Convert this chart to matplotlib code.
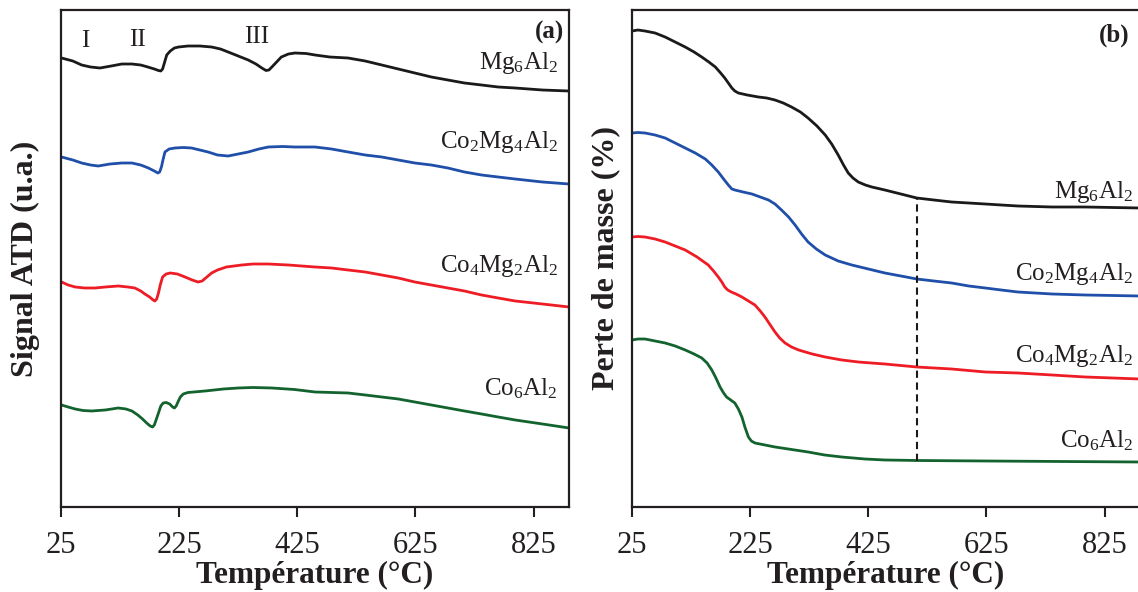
import matplotlib
matplotlib.use('Agg')
import matplotlib.pyplot as plt

plt.rcParams['font.family'] = ['Liberation Serif', 'DejaVu Serif']
plt.rcParams['mathtext.fontset'] = 'custom'
plt.rcParams['mathtext.rm'] = 'Liberation Serif'
plt.rcParams['mathtext.it'] = 'Liberation Serif'
plt.rcParams['mathtext.default'] = 'regular'

# (a) ATD signal, arbitrary units
atd_mg6_T = [26, 45, 60, 75, 91, 110, 128, 145, 160, 172, 183, 190, 194, 197, 200, 204, 210, 217, 224, 240,
             260, 280, 295, 308, 325, 342, 355, 365, 372, 377, 382, 390, 398, 410, 421, 440, 455, 480, 511,
             540, 568, 596, 624, 652, 680, 708, 737, 765, 794, 840, 885]
atd_mg6 = [4.49, 4.46, 4.42, 4.40, 4.39, 4.41, 4.43, 4.43, 4.42, 4.40, 4.38, 4.365, 4.36, 4.38, 4.44, 4.52,
           4.56, 4.59, 4.60, 4.61, 4.61, 4.60, 4.58, 4.55, 4.51, 4.47, 4.43, 4.39, 4.365, 4.37, 4.40, 4.45,
           4.50, 4.53, 4.54, 4.535, 4.52, 4.50, 4.49, 4.46, 4.42, 4.38, 4.34, 4.30, 4.27, 4.24, 4.22, 4.20,
           4.19, 4.17, 4.16]

atd_co2_T = [26, 45, 60, 75, 88, 108, 128, 145, 160, 173, 183, 189, 192, 195, 198, 201, 208, 218, 232, 246,
             260, 274, 290, 308, 325, 342, 360, 376, 400, 421, 455, 483, 511, 540, 568, 596, 624, 652, 680,
             708, 737, 765, 794, 840, 885]
atd_co2 = [3.50, 3.47, 3.44, 3.42, 3.41, 3.43, 3.44, 3.44, 3.42, 3.39, 3.36, 3.34, 3.35, 3.40, 3.48, 3.55,
           3.58, 3.59, 3.595, 3.59, 3.57, 3.55, 3.52, 3.51, 3.53, 3.55, 3.58, 3.60, 3.605, 3.60, 3.60, 3.58,
           3.55, 3.52, 3.50, 3.47, 3.44, 3.42, 3.39, 3.35, 3.32, 3.30, 3.28, 3.25, 3.23]

atd_co4_T = [26, 37, 49, 65, 83, 100, 122, 138, 150, 160, 167, 175, 181, 184, 187, 190, 193, 197, 203, 210,
             222, 235, 247, 257, 264, 270, 280, 290, 305, 331, 350, 376, 410, 455, 483, 511, 540, 568, 596,
             624, 652, 680, 708, 737, 765, 794, 840, 885]
atd_co4 = [2.25, 2.22, 2.20, 2.19, 2.19, 2.20, 2.21, 2.20, 2.19, 2.16, 2.13, 2.10, 2.07, 2.06, 2.08, 2.14,
           2.22, 2.30, 2.33, 2.34, 2.33, 2.30, 2.27, 2.25, 2.26, 2.29, 2.34, 2.37, 2.40, 2.42, 2.43, 2.43,
           2.42, 2.40, 2.39, 2.37, 2.35, 2.32, 2.29, 2.25, 2.22, 2.19, 2.16, 2.12, 2.09, 2.06, 2.03, 2.00]

atd_co6_T = [26, 37, 49, 62, 77, 100, 122, 135, 145, 155, 163, 170, 176, 180, 183, 186, 190, 194, 198, 203,
             209, 214, 217, 220, 223, 227, 232, 240, 269, 300, 325, 350, 382, 420, 455, 483, 511, 540, 568,
             596, 624, 652, 680, 708, 737, 765, 794, 840, 885]
atd_co6 = [1.02, 1.00, 0.98, 0.965, 0.96, 0.97, 0.99, 0.98, 0.96, 0.92, 0.88, 0.84, 0.81, 0.80, 0.82, 0.87,
           0.94, 1.01, 1.04, 1.045, 1.03, 1.00, 0.99, 1.01, 1.05, 1.10, 1.13, 1.145, 1.16, 1.18, 1.19, 1.195,
           1.19, 1.175, 1.15, 1.145, 1.14, 1.12, 1.10, 1.08, 1.05, 1.02, 0.99, 0.96, 0.93, 0.90, 0.87, 0.83,
           0.79]

# (b) mass loss, arbitrary offsets
tg_mg6_T = [25, 35, 47, 64, 81, 98, 115, 130, 143, 155, 166, 175, 182, 188, 194, 199, 205, 220, 239, 253,
            267, 281, 295, 310, 323, 338, 352, 363, 374, 383, 391, 399, 408, 420, 431, 453, 480, 507, 536,
            566, 595, 623, 650, 678, 736, 792, 885]
tg_mg6 = [4.76, 4.77, 4.76, 4.74, 4.70, 4.65, 4.60, 4.55, 4.50, 4.45, 4.40, 4.34, 4.29, 4.24, 4.19, 4.16,
          4.14, 4.12, 4.10, 4.09, 4.07, 4.04, 4.00, 3.95, 3.89, 3.81, 3.72, 3.63, 3.52, 3.42, 3.34, 3.29,
          3.25, 3.22, 3.20, 3.17, 3.13, 3.09, 3.07, 3.05, 3.04, 3.03, 3.02, 3.01, 3.00, 3.00, 2.99]

tg_co2_T = [25, 35, 47, 64, 81, 98, 115, 132, 149, 160, 171, 180, 188, 194, 199, 213, 228, 242, 256, 267,
            278, 290, 301, 312, 323, 337, 352, 374, 397, 425, 453, 480, 507, 536, 566, 595, 623, 650, 678,
            707, 736, 792, 885]
tg_co2 = [3.74, 3.745, 3.74, 3.72, 3.69, 3.64, 3.59, 3.54, 3.48, 3.42, 3.35, 3.28, 3.22, 3.18, 3.17, 3.15,
          3.13, 3.10, 3.07, 3.03, 2.97, 2.90, 2.82, 2.73, 2.65, 2.58, 2.52, 2.46, 2.42, 2.38, 2.34, 2.31,
          2.28, 2.26, 2.24, 2.21, 2.19, 2.17, 2.15, 2.14, 2.13, 2.12, 2.11]

tg_co4_T = [25, 35, 47, 64, 81, 98, 115, 135, 154, 163, 171, 177, 182, 187, 193, 201, 211, 222, 233, 242,
            250, 259, 267, 275, 284, 295, 307, 330, 352, 380, 408, 430, 453, 480, 507, 566, 623, 678, 736,
            792, 885]
tg_co4 = [2.70, 2.705, 2.70, 2.68, 2.65, 2.61, 2.57, 2.50, 2.42, 2.36, 2.30, 2.25, 2.20, 2.17, 2.15, 2.13,
          2.10, 2.06, 2.02, 1.96, 1.90, 1.82, 1.75, 1.69, 1.64, 1.60, 1.57, 1.53, 1.50, 1.47, 1.45, 1.44,
          1.43, 1.415, 1.40, 1.38, 1.35, 1.34, 1.32, 1.30, 1.28]

tg_co6_T = [25, 35, 47, 64, 81, 98, 115, 130, 143, 152, 160, 167, 174, 180, 185, 192, 199, 205, 211, 216,
            222, 227, 233, 250, 267, 295, 323, 351, 380, 419, 453, 507, 623, 750, 885]
tg_co6 = [1.67, 1.68, 1.68, 1.66, 1.64, 1.61, 1.57, 1.53, 1.49, 1.44, 1.37, 1.29, 1.20, 1.14, 1.10, 1.07,
          1.04, 0.98, 0.90, 0.80, 0.70, 0.66, 0.64, 0.62, 0.60, 0.575, 0.55, 0.52, 0.50, 0.48, 0.47, 0.465,
          0.46, 0.455, 0.45]

dash_T = 507
dash_range = [0.46, 3.09]

names = ['Mg$_6$Al$_2$', 'Co$_2$Mg$_4$Al$_2$', 'Co$_4$Mg$_2$Al$_2$', 'Co$_6$Al$_2$']
colors = ['#1a1a1a', '#1f4fa8', '#ee1c25', '#13632e']
xticks = [25, 225, 425, 625, 825]

fig = plt.figure(figsize=(11.38, 5.92), dpi=100)
ax1 = fig.add_axes([0.0536, 0.1436, 0.4464, 0.8395])
ax2 = fig.add_axes([0.5554, 0.1436, 0.4464, 0.8395])

atd = [(atd_mg6_T, atd_mg6), (atd_co2_T, atd_co2), (atd_co4_T, atd_co4), (atd_co6_T, atd_co6)]
tg = [(tg_mg6_T, tg_mg6), (tg_co2_T, tg_co2), (tg_co4_T, tg_co4), (tg_co6_T, tg_co6)]

for (t, v), c in zip(atd, colors):
    ax1.plot(t, v, color=c, lw=2.0, solid_joinstyle='round')
for (t, v), c in zip(tg, colors):
    ax2.plot(t, v, color=c, lw=2.0, solid_joinstyle='round')

ax2.plot([dash_T, dash_T], dash_range, color='#1a1a1a', lw=1.5, dashes=(3.5, 2.2))

# curve labels
lab_a_y = [0.881, 0.722, 0.473, 0.225]
lab_b_y = [0.622, 0.457, 0.292, 0.119]
for n, y in zip(names, lab_a_y):
    ax1.text(0.978, y, n, transform=ax1.transAxes, ha='right', va='baseline', fontsize=18, color='#231f20')
for n, y in zip(names, lab_b_y):
    ax2.text(0.987, y, n, transform=ax2.transAxes, ha='right', va='baseline', fontsize=18, color='#231f20')

ax1.text(0.99, 0.955, '(a)', transform=ax1.transAxes, ha='right', va='center', fontsize=18,
         fontweight='bold', color='#231f20')
ax2.text(0.98, 0.95, '(b)', transform=ax2.transAxes, ha='right', va='center', fontsize=18,
         fontweight='bold', color='#231f20')

for lab, xp, yp in [('I', 85, 41), ('II', 137, 40), ('III', 257, 37)]:
    ax1.text((xp - 61) / 508, (507 - yp) / 497, lab, transform=ax1.transAxes, ha='center', va='center',
             fontsize=18, color='#231f20')

for ax, ylab, ypos in [(ax1, 'Signal ATD (u.a.)', -0.041), (ax2, 'Perte de masse (%)', -0.024)]:
    ax.set_xlim(25, 885)
    ax.set_ylim(0, 4.97)
    ax.set_xticks(xticks)
    ax.set_yticks([])
    ax.tick_params(axis='x', direction='out', length=7, width=1.5, labelsize=22, pad=10, colors='#231f20')
    for s in ax.spines.values():
        s.set_linewidth(1.6)
        s.set_color('#231f20')
    ax.set_xlabel('Température (°C)', fontsize=22.5, fontweight='bold', color='#231f20')
    ax.xaxis.set_label_coords(0.5, -0.109)
    ax.set_ylabel(ylab, fontsize=23, fontweight='bold', color='#231f20')
    ax.yaxis.set_label_coords(ypos, 0.5)

fig.savefig('out.png', dpi=100)
